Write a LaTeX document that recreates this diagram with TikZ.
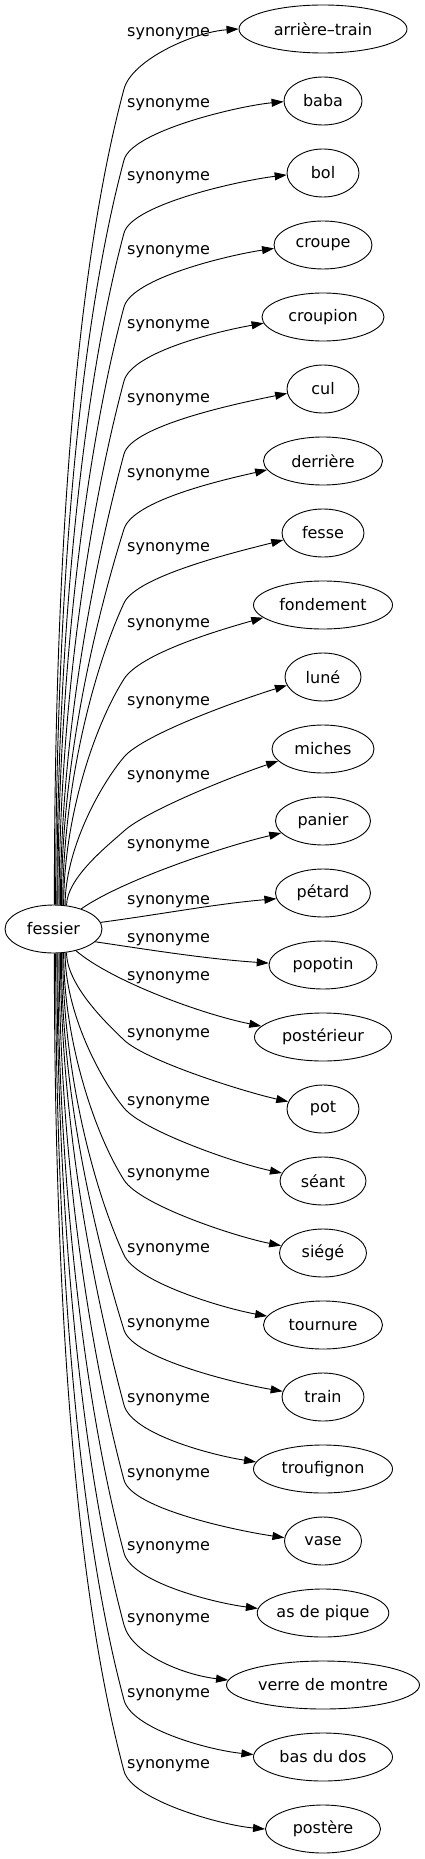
\documentclass[tikz,border=0pt]{standalone}
\usepackage{fontspec}
\setmainfont{DejaVu Sans}
\usetikzlibrary{shapes.geometric,arrows.meta}

\tikzset{
    word/.style={draw, ellipse, line width=0.9pt, inner sep=0pt,
        minimum height=48pt, font=\fontsize{16}{19}\selectfont},
    rel/.style={inner sep=0pt, anchor=base west, font=\fontsize{16}{19}\selectfont},
    link/.style={line width=0.9pt, -{Triangle[length=12pt,width=8pt]}}
}

\begin{document}
\begin{tikzpicture}[x=1pt,y=-1pt]
        \useasboundingbox (0,0) rectangle (424,1859);

        % Source word
        \node[word, minimum width=97pt] (fessier) at (53.5,929) {fessier};

        % Synonyms, one row each
        \foreach \w/\wid [count=\i from 0] in {arrière–train/168, baba/78, bol/72,
            croupe/98, croupion/122, cul/72, derrière/119, fesse/82, fondement/139,
            luné/76, miches/102, panier/95, pétard/95, popotin/108, postérieur/137,
            pot/72, séant/86, siégé/87, tournure/119, train/82, troufignon/139,
            vase/77, as de pique/123, verre de montre/193, bas du dos/139, postère/115} {
            \node[word, minimum width=\wid pt] (syn\i) at (323,{29+72*\i}) {\w};
        }

        % Edge labels
        \def\labely{{32,103,176,250,324,397,472,546,622,700,774,843,899,
            937,975,1032,1100,1172,1247,1322,1397,1472,1545,1617,1692,1763}}
        \foreach \i in {0,...,25} {
            \pgfmathsetmacro\ly{\labely[\i]+5}
            \node[rel] (lab\i) at (127,\ly) {synonyme};
        }

        % Upper fan
        \foreach \i in {0,...,10} {
            \pgfmathsetmacro\by{\labely[\i]+57}
            \pgfmathsetmacro\dd{905-\by}
            \pgfmathsetmacro\ang{35+40*min(1,\dd/400)}
            \pgfmathtruncatemacro\sa{88-2.6*\i}
            \pgfmathtruncatemacro\ea{180+1.5*\i}
            \coordinate (bend\i) at (124,\by);
            \draw[link] (fessier.\sa)
                .. controls +(0,{-0.38*\dd}) and +({-0.25*\dd*cos(\ang)},{0.25*\dd*sin(\ang)}) .. (bend\i)
                .. controls +({30*cos(\ang)},{-30*sin(\ang)}) and +(-45,{3+1.2*\i}) .. (syn\i.\ea);
        }

        % Middle rows
        \draw[link] (fessier.36) .. controls +(40,-28) and +(-60,14) .. (syn11.196);
        \draw[link] (fessier.8) .. controls +(60,-8) and +(-60,5) .. (syn12.187);
        \draw[link] (fessier.-17) .. controls +(60,9) and +(-60,-4) .. (syn13.178);
        \draw[link] (fessier.-44) .. controls +(35,30) and +(-60,-12) .. (syn14.170);

        % Lower fan
        \foreach \i in {15,...,25} {
            \pgfmathsetmacro\by{\labely[\i]+8}
            \pgfmathsetmacro\dd{\by-953}
            \pgfmathsetmacro\ang{35+40*min(1,\dd/400)}
            \pgfmathtruncatemacro\sa{-88+2.6*(25-\i)}
            \pgfmathtruncatemacro\ea{180-1.2*(25-\i)}
            \coordinate (bend\i) at (124,\by);
            \draw[link] (fessier.\sa)
                .. controls +(0,{0.38*\dd}) and +({-0.25*\dd*cos(\ang)},{-0.25*\dd*sin(\ang)}) .. (bend\i)
                .. controls +({30*cos(\ang)},{30*sin(\ang)}) and +(-45,{-(4+0.6*(25-\i))}) .. (syn\i.\ea);
        }
\end{tikzpicture}
\end{document}
